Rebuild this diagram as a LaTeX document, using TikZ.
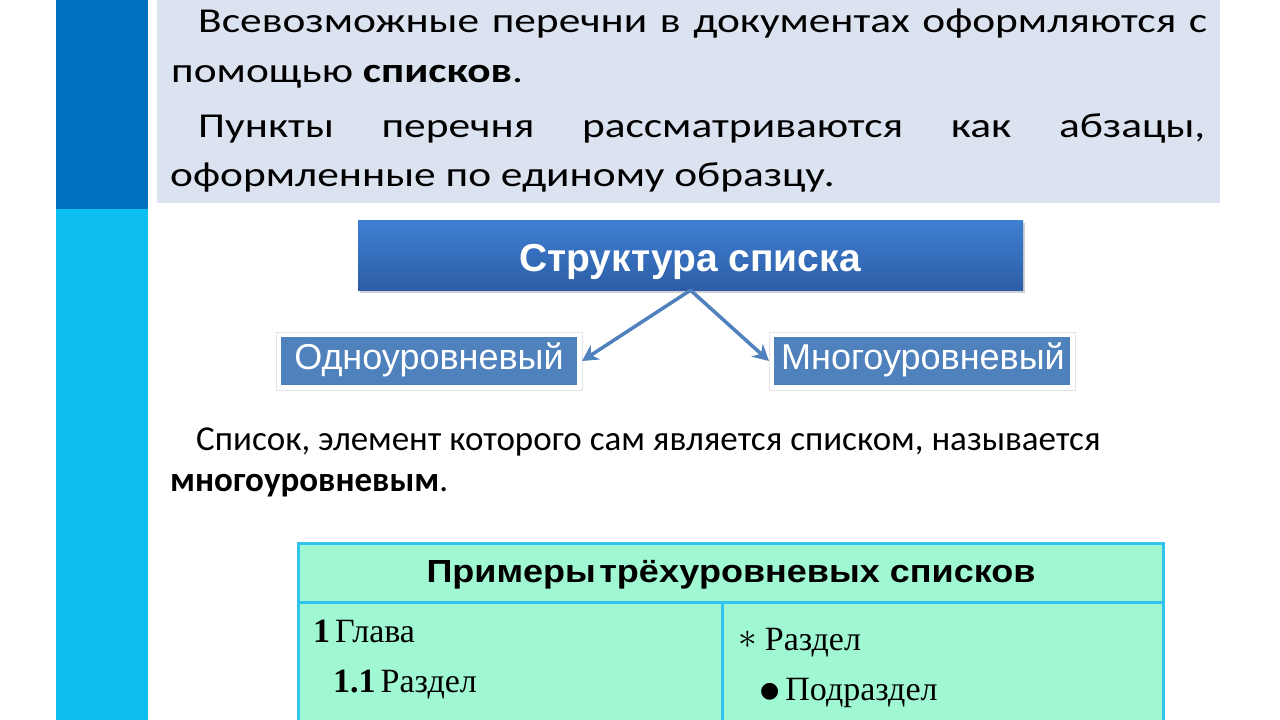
\documentclass[tikz,border=0pt]{standalone}
\usepackage{fontspec}
\setmainfont{Carlito}
\newfontfamily\headf[FakeStretch=1.24]{Carlito}
\newfontfamily\arialf{Liberation Sans}
\newfontfamily\timesf{Liberation Serif}
\newfontfamily\dejavu{DejaVu Sans}
\usetikzlibrary{arrows.meta,shadows}
\definecolor{darkbar}{HTML}{0070C0}
\definecolor{lightbar}{HTML}{0DBEF0}
\definecolor{headbg}{HTML}{DCE3F0}
\definecolor{boxblue}{HTML}{4F81BD}
\definecolor{gradtop}{HTML}{3F80D2}
\definecolor{gradbot}{HTML}{2C5DA6}
\definecolor{mint}{HTML}{A0F8D2}
\definecolor{tblline}{HTML}{33C3EF}
\tikzset{
  headtext/.style={anchor=base west, inner sep=0pt, font=\headf\fontsize{35}{40}\selectfont},
  bodytext/.style={anchor=base west, inner sep=0pt, font=\fontsize{35}{40}\selectfont},
  subbox/.style={fill=boxblue, draw=white, line width=5pt, minimum width=301pt, minimum height=53pt,
    inner sep=0pt,
    drop shadow={shadow xshift=2pt, shadow yshift=-3pt, opacity=0.3, fill=black!60}},
  subtext/.style={anchor=base, inner sep=0pt, text=white, font=\arialf\fontsize{36}{40}\selectfont},
  frameline/.style={draw=black!10, line width=0.6pt},
  conn/.style={draw=boxblue, line width=3.5pt, -{Stealth[length=16pt,width=17pt]}},
  celltext/.style={anchor=base west, inner sep=0pt, font=\timesf\fontsize{34}{38}\selectfont}
}
\begin{document}
\begin{tikzpicture}[x=1pt,y=-1pt]
\useasboundingbox (0,0) rectangle (1280,720);
\fill[white] (0,0) rectangle (1280,720);
% side bars
\fill[darkbar] (56,0) rectangle (148,209);
\fill[lightbar] (56,209) rectangle (148,720);
% header background
\fill[headbg] (157,0) rectangle (1220,203);
% header text
\node[headtext] (l1) at (198,32) {\makebox[1009pt][s]{Всевозможные перечни в документах оформляются с}};
\node[headtext] (l2) at (171,82) {помощью \textbf{списков}.};
\node[headtext] (l3) at (198,137) {\makebox[1007pt][s]{Пункты перечня рассматриваются как абзацы,}};
\node[headtext] (l4) at (170,186) {оформленные по единому образцу.};
% structure box
\node[minimum width=665pt, minimum height=70pt, inner sep=0pt,
  top color=gradtop, bottom color=gradbot, draw=none,
  drop shadow={shadow xshift=2pt, shadow yshift=-3pt, opacity=0.3, fill=black!60}] (top) at (690.5,255) {};
\node[anchor=base, inner sep=0pt, text=white, font=\arialf\bfseries\fontsize{39}{43}\selectfont] (toptext) at (690,271) {Структура списка};
\node[subbox] (one) at (429,361) {};
\node[subbox] (multi) at (922,361) {};
\draw[frameline] (one.north west) rectangle (one.south east);
\draw[frameline] (multi.north west) rectangle (multi.south east);
\node[subtext] (onetext) at (429,369) {Одноуровневый};
\node[subtext] (multitext) at (923,369) {Многоуровневый};
\draw[conn] (top.south) -- (one.east);
\draw[conn] (top.south) -- (multi.west);
% definition text
\node[bodytext] (d1) at (196,450) {Список, элемент которого сам является списком, называется};
\node[bodytext] (d2) at (170,491) {\textbf{многоуровневым}.};
% table
\fill[mint] (298,543) rectangle (1163,722);
\draw[tblline, line width=3pt] (298,725) -- (298,543) -- (1163,543) -- (1163,725);
\draw[tblline, line width=3pt] (298,602) -- (1163,602);
\draw[tblline, line width=3pt] (722,602) -- (722,725);
\node[anchor=base, inner sep=0pt, font=\arialf\bfseries\fontsize{32}{36}\selectfont] (title) at (731,582) {\resizebox{609pt}{\height}{Примеры\hspace{3pt}трёхуровневых списков}};
\node[celltext] (c1) at (313,642) {\textbf{1}\hspace{5pt}Глава};
\node[celltext] (c2) at (333,692) {\textbf{1.1}\hspace{5pt}Раздел};
\node[celltext] (c3) at (738,650) {\raisebox{2pt}{\scalebox{1.5}{$\ast$}}\hspace{8pt}Раздел};
\node[celltext] (c4) at (760,700) {\raisebox{3pt}{\dejavu\fontsize{22}{22}\selectfont ●}\hspace{6pt}Подраздел};
\end{tikzpicture}
\end{document}
